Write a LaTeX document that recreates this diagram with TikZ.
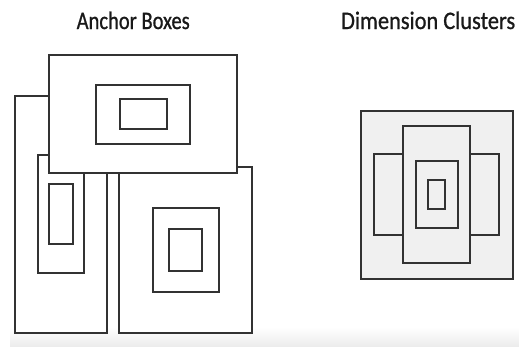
\documentclass[tikz,border=0pt]{standalone}
\usepackage{fontspec}
\setmainfont{Carlito}
\newfontfamily\headfont{Carlito}[FakeBold=0.9]
\usepackage{graphicx}
\definecolor{boxline}{RGB}{50,50,50}
\definecolor{clusterfill}{RGB}{240,240,240}
\definecolor{floorgray}{RGB}{236,236,236}
\tikzset{
  anchorbox/.style={draw=boxline, line width=1.8pt, fill=white},
  clusterbox/.style={draw=boxline, line width=1.8pt, fill=clusterfill},
  heading/.style={anchor=base west, inner sep=0pt, text=black!90, font=\headfont}
}
\begin{document}
\begin{tikzpicture}[x=1pt, y=-1pt]
  % canvas
  \useasboundingbox (0,0) rectangle (519,346);
  \fill[white] (0,0) rectangle (519,346);
  \shade[top color=white, bottom color=floorgray] (10,327) rectangle (519,346);

  % headings
  \node[heading] (anchortitle) at (76.5,29) {\resizebox{113pt}{17.5pt}{Anchor Boxes}};
  \node[heading] (clustertitle) at (341,29) {\resizebox{174pt}{17.5pt}{Dimension Clusters}};

  % anchor boxes: tall group on the left
  \draw[anchorbox] (14.7,95.7) rectangle (107.3,332.7);
  \draw[anchorbox] (37.7,155) rectangle (84,273.3);
  \draw[anchorbox] (49.3,184.3) rectangle (72.7,244);

  % anchor boxes: square group on the right
  \draw[anchorbox] (119.3,166.7) rectangle (251.7,333.3);
  \draw[anchorbox] (153,208.3) rectangle (219,292.3);
  \draw[anchorbox] (169.3,229) rectangle (202.3,271);

  % anchor boxes: wide group on top
  \draw[anchorbox] (49.3,55.3) rectangle (237.3,172.7);
  \draw[anchorbox] (96.3,84.7) rectangle (190.3,144);
  \draw[anchorbox] (119.7,99.3) rectangle (166.7,129.3);

  % dimension clusters
  \draw[clusterbox] (360.7,110.7) rectangle (512.7,279.3);
  \draw[clusterbox] (373.7,153.7) rectangle (499.3,235.3);
  \draw[clusterbox] (403.3,126) rectangle (469.7,263.3);
  \draw[clusterbox] (415.7,161) rectangle (457.7,228);
  \draw[clusterbox] (428,180) rectangle (445,209);
\end{tikzpicture}
\end{document}
